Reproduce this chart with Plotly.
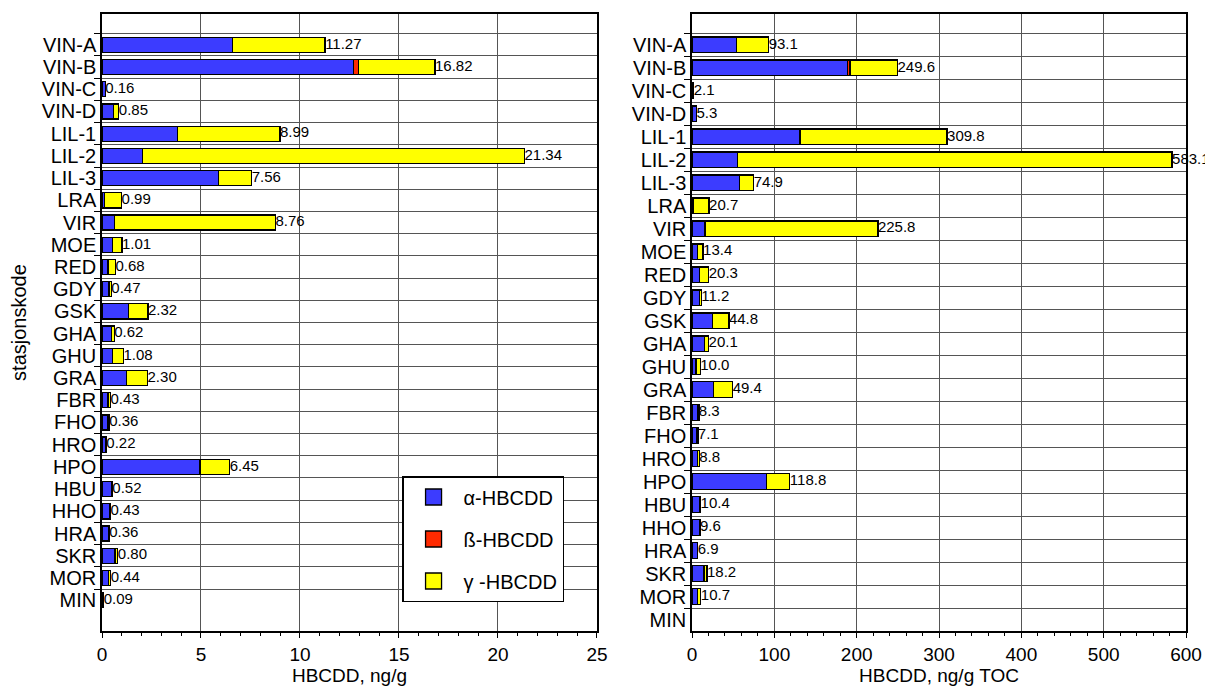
import plotly.graph_objects as go

stations = ["VIN-A", "VIN-B", "VIN-C", "VIN-D", "LIL-1", "LIL-2", "LIL-3", "LRA", "VIR",
            "MOE", "RED", "GDY", "GSK", "GHA", "GHU", "GRA", "FBR", "FHO", "HRO", "HPO",
            "HBU", "HHO", "HRA", "SKR", "MOR", "MIN"]

# HBCDD, ng/g (dry weight)
alpha_dw = [6.60, 12.70, 0.16, 0.59, 3.82, 2.05, 5.87, 0.14, 0.62, 0.53, 0.31, 0.36, 1.33,
            0.49, 0.53, 1.23, 0.31, 0.28, 0.20, 4.95, 0.48, 0.40, 0.36, 0.65, 0.33, 0.09]
beta_dw = [0.00, 0.25, 0.00, 0.00, 0.00, 0.00, 0.00, 0.00, 0.00, 0.00, 0.00, 0.00, 0.00,
           0.00, 0.00, 0.00, 0.00, 0.00, 0.00, 0.00, 0.00, 0.00, 0.00, 0.00, 0.00, 0.00]
gamma_dw = [4.67, 3.87, 0.00, 0.26, 5.17, 19.29, 1.69, 0.85, 8.14, 0.48, 0.37, 0.11, 0.99,
            0.13, 0.55, 1.07, 0.12, 0.08, 0.02, 1.50, 0.04, 0.03, 0.00, 0.15, 0.11, 0.00]
total_dw = [11.27, 16.82, 0.16, 0.85, 8.99, 21.34, 7.56, 0.99, 8.76, 1.01, 0.68, 0.47, 2.32,
            0.62, 1.08, 2.30, 0.43, 0.36, 0.22, 6.45, 0.52, 0.43, 0.36, 0.80, 0.44, 0.09]

# HBCDD, ng/g TOC
alpha_toc = [54.3, 188.7, 2.1, 5.3, 131.2, 55.5, 57.5, 2.0, 15.8, 6.9, 8.9, 9.0, 25.1,
             15.4, 4.9, 25.9, 6.5, 6.0, 7.0, 90.7, 9.5, 9.0, 6.9, 14.6, 6.5, None]
beta_toc = [0.0, 3.3, 0.0, 0.0, 0.0, 0.0, 0.0, 0.0, 0.0, 0.0, 0.0, 0.0, 0.0,
            0.0, 0.0, 0.0, 0.0, 0.0, 0.0, 0.0, 0.0, 0.0, 0.0, 0.0, 0.0, None]
gamma_toc = [38.8, 57.6, 0.0, 0.0, 178.6, 527.6, 17.4, 18.7, 210.0, 6.5, 11.4, 2.2, 19.7,
             4.7, 5.1, 23.5, 1.8, 1.1, 1.8, 28.1, 0.9, 0.6, 0.0, 3.6, 4.2, None]
total_toc = [93.1, 249.6, 2.1, 5.3, 309.8, 583.1, 74.9, 20.7, 225.8, 13.4, 20.3, 11.2, 44.8,
             20.1, 10.0, 49.4, 8.3, 7.1, 8.8, 118.8, 10.4, 9.6, 6.9, 18.2, 10.7, None]

names = ["α-HBCDD", "ß-HBCDD", "γ -HBCDD"]
colors = ["#3c3cff", "#ff2a00", "#ffff00"]

FONT = "Liberation Sans, Arial, Helvetica, sans-serif"

fig = go.Figure()

for i, (vals_l, vals_r) in enumerate([(alpha_dw, alpha_toc), (beta_dw, beta_toc), (gamma_dw, gamma_toc)]):
    fig.add_trace(go.Bar(
        y=stations, x=vals_l, orientation="h", name=names[i],
        marker=dict(color=colors[i], line=dict(color="black", width=1.3)),
        xaxis="x", yaxis="y", legendgroup=names[i], showlegend=False))
    fig.add_trace(go.Bar(
        y=stations, x=vals_r, orientation="h", name=names[i],
        marker=dict(color=colors[i], line=dict(color="black", width=1.3)),
        xaxis="x2", yaxis="y2", legendgroup=names[i], showlegend=False))
    # legend entry with a large square swatch (no data drawn)
    fig.add_trace(go.Scatter(
        x=[None], y=[None], mode="markers", name=names[i],
        marker=dict(symbol="square", size=26, color=colors[i], line=dict(color="black", width=1.3)),
        xaxis="x", yaxis="y", legendgroup=names[i], showlegend=True, hoverinfo="skip"))

# total labels
sum_dw = [a + b + g for a, b, g in zip(alpha_dw, beta_dw, gamma_dw)]
fig.add_trace(go.Scatter(
    y=stations, x=sum_dw, mode="text", text=[f"{t:.2f}" for t in total_dw],
    textposition="middle right", textfont=dict(size=15, color="black", family=FONT),
    marker=dict(size=2),
    xaxis="x", yaxis="y", showlegend=False, cliponaxis=False, hoverinfo="skip"))

lab_y, lab_x, lab_t = [], [], []
for s, a, b, g, t in zip(stations, alpha_toc, beta_toc, gamma_toc, total_toc):
    if t is None:
        continue
    lab_y.append(s)
    lab_x.append(a + b + g)
    lab_t.append(f"{t:.1f}")
fig.add_trace(go.Scatter(
    y=lab_y, x=lab_x, mode="text", text=lab_t,
    textposition="middle right", textfont=dict(size=15, color="black", family=FONT),
    marker=dict(size=2),
    xaxis="x2", yaxis="y2", showlegend=False, cliponaxis=False, hoverinfo="skip"))

xcommon = dict(showline=True, linecolor="black", linewidth=1.5, mirror=True,
               showgrid=True, gridcolor="#555555", gridwidth=1,
               ticks="outside", ticklen=5, tickcolor="black", automargin=False,
               tickfont=dict(size=19, family=FONT, color="black"), zeroline=False)
ycommon = dict(showline=True, linecolor="black", linewidth=1.5, mirror=True,
               showgrid=True, gridcolor="#555555", gridwidth=1,
               ticks="outside", ticklen=6, tickcolor="black", tickson="boundaries",
               type="category", tickmode="linear", tick0=0, dtick=1,
               categoryorder="array", categoryarray=stations, autorange="reversed",
               automargin=False,
               tickfont=dict(size=20, family=FONT, color="black"))

fig.update_layout(
    width=1205, height=680,
    margin=dict(l=94, r=27, t=6, b=57, autoexpand=False),
    paper_bgcolor="white", plot_bgcolor="white",
    barmode="stack", bargap=0.32,
    font=dict(family=FONT, color="black"),
    xaxis=dict(domain=[0, 0.4566], range=[0, 25], dtick=5,
               minor=dict(dtick=1, ticks="outside", ticklen=3, tickcolor="black", showgrid=False),
               title=dict(text="HBCDD, ng/g", font=dict(size=19, family=FONT), standoff=0),
               anchor="y", **xcommon),
    xaxis2=dict(domain=[0.5443, 1.0], range=[0, 600], dtick=100,
                minor=dict(dtick=20, ticks="outside", ticklen=3, tickcolor="black", showgrid=False),
                title=dict(text="HBCDD, ng/g TOC", font=dict(size=19, family=FONT), standoff=0),
                anchor="y2", **xcommon),
    yaxis=dict(domain=[0, 1], anchor="x",
               title=dict(text="stasjonskode", font=dict(size=20, family=FONT), standoff=16),
               **ycommon),
    yaxis2=dict(domain=[0, 1], anchor="x2", **ycommon),
    legend=dict(x=0.2768, y=0.2512, xanchor="left", yanchor="top",
                bgcolor="white", bordercolor="black", borderwidth=1.5,
                font=dict(size=20, family=FONT, color="black"),
                itemsizing="trace", tracegroupgap=13, itemwidth=50, traceorder="grouped"),
    showlegend=True,
)

fig.write_html("out.html")
